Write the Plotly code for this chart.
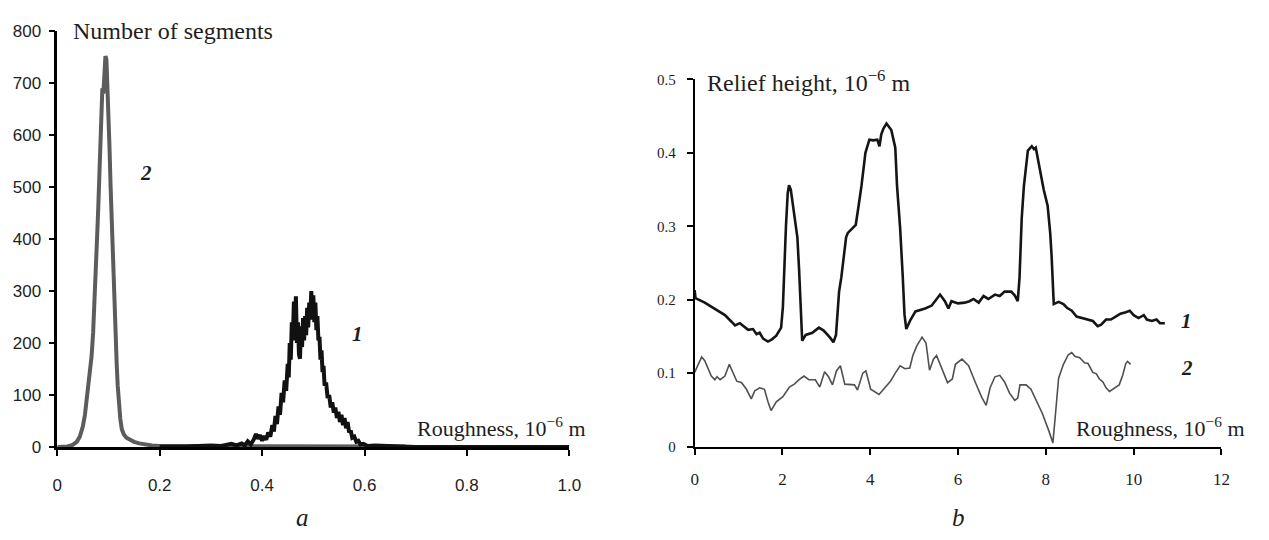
import plotly.graph_objects as go

# ---------------- data: panel a (histograms) ----------------
hist2_x = [0.000, 0.010, 0.020, 0.030, 0.038, 0.044, 0.050, 0.054, 0.058, 0.061,
           0.064, 0.067, 0.070, 0.072, 0.074, 0.076, 0.078, 0.080, 0.082, 0.084,
           0.086, 0.088, 0.090, 0.092, 0.094, 0.096, 0.098, 0.100, 0.102, 0.104,
           0.106, 0.108, 0.110, 0.112, 0.114, 0.116, 0.118, 0.120, 0.123, 0.126,
           0.130, 0.135, 0.142, 0.150, 0.160, 0.170, 0.185, 0.200, 0.250, 0.300,
           0.400, 0.500, 0.600, 0.680]
hist2_y = [0, 0, 1, 4, 10, 20, 40, 62, 96, 118,
           140, 175, 220, 260, 310, 345, 410, 460, 530, 580,
           610, 690, 680, 735, 752, 745, 700, 630, 575, 505,
           440, 370, 310, 250, 200, 160, 118, 90, 55, 34,
           24, 18, 14, 10, 7, 5, 3, 2, 2, 1,
           1, 1, 1, 1]

hist1_x = [0.200, 0.250, 0.300, 0.320, 0.340, 0.350, 0.360, 0.366, 0.372, 0.378,
           0.384, 0.388, 0.392, 0.396, 0.400, 0.404, 0.408, 0.412, 0.416, 0.420,
           0.423, 0.426, 0.429, 0.432, 0.435, 0.438, 0.441, 0.444, 0.447, 0.450,
           0.452, 0.454, 0.456, 0.458, 0.460, 0.462, 0.464, 0.466, 0.468, 0.470,
           0.472, 0.474, 0.476, 0.478, 0.480, 0.482, 0.484, 0.486, 0.488, 0.490,
           0.492, 0.494, 0.496, 0.498, 0.500, 0.502, 0.504, 0.506, 0.508, 0.510,
           0.512, 0.514, 0.516, 0.518, 0.520, 0.522, 0.525, 0.528, 0.531, 0.534,
           0.537, 0.540, 0.543, 0.546, 0.549, 0.552, 0.555, 0.558, 0.561, 0.564,
           0.567, 0.570, 0.573, 0.576, 0.580, 0.584, 0.588, 0.592, 0.598, 0.606,
           0.620, 0.660, 0.680, 0.700, 1.000]
hist1_y = [1, 1, 3, 2, 6, 3, 7, 3, 11, 5,
           15, 25, 16, 23, 12, 21, 14, 28, 20, 42,
           30, 60, 44, 78, 62, 104, 86, 128, 108, 160,
           134, 200, 168, 240, 205, 280, 232, 290, 200, 240,
           178, 170, 232, 192, 248, 205, 252, 215, 268, 230,
           278, 245, 300, 262, 292, 240, 278, 225, 252, 205,
           212, 168, 186, 144, 156, 118, 124, 94, 100, 76,
           86, 66, 76, 56, 68, 48, 62, 42, 56, 36,
           48, 28, 32, 18, 20, 10, 12, 5, 6, 2,
           3, 2, 1, 0, 0]

# ---------------- data: panel b (profiles) ----------------
prof1_x = [0.00, 0.02, 0.23, 0.46, 0.54, 0.69, 0.84, 0.92, 1.03, 1.11,
           1.22, 1.33, 1.41, 1.48, 1.56, 1.67, 1.76, 1.86, 1.97, 2.01,
           2.04, 2.08, 2.12, 2.15, 2.19, 2.24, 2.27, 2.34, 2.38, 2.42,
           2.45, 2.53, 2.68, 2.83, 2.94, 3.09, 3.16, 3.22, 3.29, 3.34,
           3.40, 3.45, 3.49, 3.58, 3.67, 3.74, 3.80, 3.89, 3.98, 4.07,
           4.16, 4.21, 4.25, 4.30, 4.37, 4.48, 4.57, 4.61, 4.68, 4.74,
           4.78, 4.82, 4.92, 5.03, 5.25, 5.40, 5.59, 5.70, 5.78, 5.85,
           6.00, 6.15, 6.26, 6.35, 6.47, 6.58, 6.69, 6.84, 6.95, 7.06,
           7.21, 7.29, 7.36, 7.40, 7.45, 7.50, 7.59, 7.68, 7.73, 7.77,
           7.86, 7.95, 8.04, 8.10, 8.13, 8.16, 8.18, 8.29, 8.40, 8.48,
           8.59, 8.70, 8.81, 8.96, 9.07, 9.18, 9.26, 9.37, 9.48, 9.59,
           9.70, 9.82, 9.91, 10.00, 10.11, 10.23, 10.30, 10.41, 10.52, 10.60,
           10.71]
prof1_y = [0.213, 0.202, 0.196, 0.188, 0.185, 0.179, 0.170, 0.165, 0.168, 0.164,
           0.159, 0.160, 0.153, 0.155, 0.147, 0.143, 0.146, 0.151, 0.162, 0.190,
           0.240, 0.300, 0.345, 0.356, 0.350, 0.330, 0.318, 0.285, 0.240, 0.170,
           0.144, 0.152, 0.155, 0.162, 0.158, 0.148, 0.142, 0.152, 0.211, 0.230,
           0.258, 0.285, 0.291, 0.296, 0.302, 0.330, 0.355, 0.400, 0.418, 0.417,
           0.418, 0.409, 0.425, 0.433, 0.440, 0.431, 0.407, 0.355, 0.298, 0.232,
           0.180, 0.160, 0.173, 0.184, 0.188, 0.192, 0.207, 0.198, 0.188, 0.198,
           0.195, 0.196, 0.198, 0.201, 0.196, 0.205, 0.201, 0.207, 0.205, 0.211,
           0.211, 0.206, 0.198, 0.230, 0.311, 0.355, 0.403, 0.409, 0.405, 0.407,
           0.377, 0.350, 0.328, 0.290, 0.260, 0.220, 0.194, 0.197, 0.194, 0.189,
           0.185, 0.177, 0.175, 0.173, 0.171, 0.164, 0.166, 0.173, 0.173, 0.177,
           0.181, 0.183, 0.185, 0.179, 0.175, 0.179, 0.173, 0.171, 0.173, 0.168,
           0.168]

prof2_x = [0.00, 0.09, 0.16, 0.23, 0.31, 0.38, 0.46, 0.51, 0.58, 0.69,
           0.79, 0.88, 0.96, 1.07, 1.18, 1.29, 1.37, 1.48, 1.59, 1.67,
           1.74, 1.86, 2.01, 2.16, 2.27, 2.38, 2.49, 2.60, 2.75, 2.85,
           2.96, 3.05, 3.14, 3.23, 3.32, 3.42, 3.53, 3.64, 3.71, 3.83,
           3.90, 4.01, 4.20, 4.35, 4.46, 4.57, 4.68, 4.79, 4.90, 4.97,
           5.06, 5.18, 5.27, 5.35, 5.44, 5.51, 5.65, 5.76, 5.87, 5.94,
           6.09, 6.24, 6.39, 6.54, 6.64, 6.73, 6.84, 6.95, 7.06, 7.17,
           7.29, 7.36, 7.41, 7.55, 7.66, 7.77, 7.92, 8.07, 8.16, 8.22,
           8.29, 8.40, 8.51, 8.59, 8.66, 8.77, 8.88, 8.96, 9.07, 9.15,
           9.22, 9.30, 9.37, 9.45, 9.56, 9.67, 9.75, 9.82, 9.86, 9.93]
prof2_y = [0.101, 0.114, 0.122, 0.117, 0.105, 0.096, 0.091, 0.095, 0.091, 0.096,
           0.112, 0.100, 0.089, 0.087, 0.078, 0.065, 0.076, 0.080, 0.078, 0.061,
           0.049, 0.061, 0.068, 0.081, 0.085, 0.091, 0.096, 0.091, 0.091, 0.081,
           0.102, 0.095, 0.084, 0.103, 0.110, 0.085, 0.084, 0.084, 0.077, 0.100,
           0.103, 0.078, 0.071, 0.081, 0.089, 0.100, 0.110, 0.106, 0.107, 0.124,
           0.137, 0.149, 0.141, 0.104, 0.119, 0.124, 0.103, 0.087, 0.092, 0.112,
           0.119, 0.110, 0.088, 0.067, 0.056, 0.080, 0.095, 0.097, 0.088, 0.073,
           0.063, 0.066, 0.084, 0.084, 0.078, 0.065, 0.045, 0.021, 0.005, 0.045,
           0.093, 0.112, 0.125, 0.128, 0.123, 0.121, 0.114, 0.113, 0.101, 0.099,
           0.092, 0.088, 0.080, 0.075, 0.080, 0.084, 0.097, 0.113, 0.116, 0.112]

left_xticks = [0, 0.2, 0.4, 0.6, 0.8, 1.0]
left_xlabels = ["0", "0.2", "0.4", "0.6", "0.8", "1.0"]
left_yticks = [0, 100, 200, 300, 400, 500, 600, 700, 800]
right_xticks = [0, 2, 4, 6, 8, 10, 12]
right_yticks = [0, 0.1, 0.2, 0.3, 0.4, 0.5]
right_ylabels = ["0", "0.1", "0.2", "0.3", "0.4", "0.5"]

W, H = 1269, 540


def px(x):
    return x / W


def py(y):
    return 1 - y / H


SERIF = "Liberation Serif, Times New Roman, serif"
SANS = "Liberation Sans, Arial, sans-serif"
INK = "#1e1e1e"

fig = go.Figure()
fig.add_trace(go.Scatter(x=hist2_x, y=hist2_y, mode="lines", line=dict(color="#5c5c5c", width=4),
                         xaxis="x", yaxis="y", showlegend=False))
fig.add_trace(go.Scatter(x=hist1_x, y=hist1_y, mode="lines", line=dict(color="#111111", width=4),
                         xaxis="x", yaxis="y", showlegend=False))
fig.add_trace(go.Scatter(x=prof1_x, y=prof1_y, mode="lines", line=dict(color="#151515", width=2.6),
                         xaxis="x2", yaxis="y2", showlegend=False))
fig.add_trace(go.Scatter(x=prof2_x, y=prof2_y, mode="lines", line=dict(color="#505050", width=1.6),
                         xaxis="x2", yaxis="y2", showlegend=False))

axis_common = dict(showline=True, linecolor="black", showgrid=False, zeroline=False,
                   ticks="outside", tickcolor="black", ticklen=6)

fig.update_layout(
    width=W, height=H, margin=dict(l=0, r=0, t=0, b=0),
    paper_bgcolor="white", plot_bgcolor="white",
    xaxis=dict(domain=[px(53), px(572)], range=[0, 1.0], tickvals=left_xticks, ticktext=left_xlabels,
               linewidth=2.5, tickwidth=2, anchor="y", ticklabelstandoff=15,
               tickfont=dict(family=SANS, size=17, color=INK), **axis_common),
    yaxis=dict(domain=[py(454), py(23)], range=[0, 800], tickvals=left_yticks,
               linewidth=2.5, tickwidth=2, anchor="x", ticklabelstandoff=4,
               tickfont=dict(family=SANS, size=17, color=INK), **axis_common),
    xaxis2=dict(domain=[px(699), px(1233)], range=[0, 12], tickvals=right_xticks,
                linewidth=2, tickwidth=1.5, anchor="y2", ticklabelstandoff=10,
                tickfont=dict(family=SERIF, size=17, color=INK), **axis_common),
    yaxis2=dict(domain=[py(453.5), py(73)], range=[0, 0.5], tickvals=right_yticks, ticktext=right_ylabels,
                linewidth=2, tickwidth=1.5, anchor="x2", ticklabelstandoff=8,
                tickfont=dict(family=SERIF, size=15, color=INK), **axis_common),
)

annotations = [
    dict(text="Number of segments", x=px(67), y=py(23), xanchor="left", yanchor="middle",
         font=dict(family=SERIF, size=24, color=INK)),
    dict(text="Relief height, 10<sup>−6</sup> m", x=px(709), y=py(75), xanchor="left", yanchor="middle",
         font=dict(family=SERIF, size=24, color=INK)),
    dict(text="Roughness, 10<sup>−6</sup> m", x=px(416), y=py(433), xanchor="left", yanchor="middle",
         font=dict(family=SERIF, size=22, color=INK)),
    dict(text="Roughness, 10<sup>−6</sup> m", x=px(1084), y=py(433), xanchor="left", yanchor="middle",
         font=dict(family=SERIF, size=22, color=INK)),
    dict(text="<b><i>2</i></b>", x=px(143), y=py(170), xanchor="center", yanchor="middle",
         font=dict(family=SERIF, size=21, color=INK)),
    dict(text="<b><i>1</i></b>", x=px(357), y=py(337), xanchor="center", yanchor="middle",
         font=dict(family=SERIF, size=21, color=INK)),
    dict(text="<b><i>1</i></b>", x=px(1198), y=py(323), xanchor="center", yanchor="middle",
         font=dict(family=SERIF, size=21, color=INK)),
    dict(text="<b><i>2</i></b>", x=px(1198), y=py(372), xanchor="center", yanchor="middle",
         font=dict(family=SERIF, size=21, color=INK)),
    dict(text="<i>a</i>", x=px(302), y=py(527), xanchor="center", yanchor="middle",
         font=dict(family=SERIF, size=25, color=INK)),
    dict(text="<i>b</i>", x=px(966), y=py(527), xanchor="center", yanchor="middle",
         font=dict(family=SERIF, size=25, color=INK)),
]
for a in annotations:
    a.update(xref="paper", yref="paper", showarrow=False)
fig.update_layout(annotations=annotations)

fig.write_html("out.html")
